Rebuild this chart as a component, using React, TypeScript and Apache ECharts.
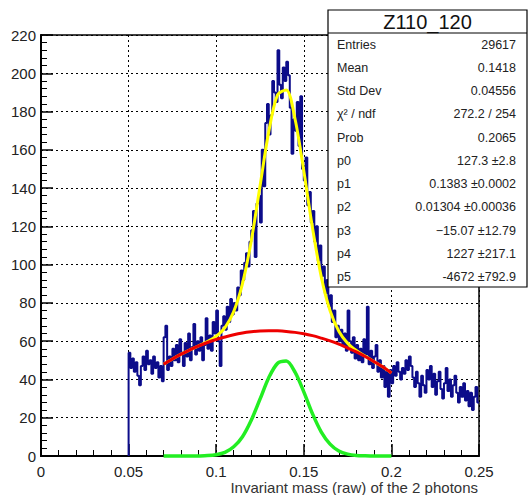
import React, { useEffect, useRef } from "react";
import * as echarts from "echarts";

// Histogram: bin low edge = HIST_START + i * BIN_WIDTH
const HIST_START = 0.05;
const BIN_WIDTH = 0.001;
const histValues = [
  54, 46, 51, 44, 49, 42, 37, 47, 52, 45,
  55, 48, 50, 43, 52, 46, 49, 41, 47, 39,
  62, 68, 45, 52, 47, 56, 50, 58, 49, 61,
  54, 47, 59, 52, 64, 50, 57, 69, 53, 60,
  55, 62, 50, 58, 72, 56, 63, 55, 70, 64,
  76, 60, 47, 68, 73, 66, 78, 70, 82, 74,
  80, 76, 88, 84, 97, 92, 101, 106, 99, 112,
  118, 128, 104, 132, 136, 122, 160, 141, 174, 184,
  168, 178, 196, 190, 185, 212, 194, 187, 203, 196,
  206, 199, 182, 158, 176, 170, 185, 162, 188, 150,
  144, 156, 131, 138, 122, 128, 112, 120, 102, 110,
  94, 99, 85, 92, 78, 84, 70, 76, 62, 68,
  60, 66, 58, 64, 55, 76, 60, 54, 62, 51,
  58, 50, 56, 49, 61, 53, 78, 48, 55, 46,
  52, 58, 44, 50, 41, 47, 36, 44, 31, 45,
  38, 47, 42, 49, 44, 40, 46, 43, 50, 45,
  52, 47, 41, 36, 44, 38, 31, 42, 37, 33,
  45, 40, 47, 36, 43, 32, 39, 44, 35, 30,
  38, 46, 34, 40, 31, 37, 42, 33, 28, 36,
  31, 38, 29, 34, 26, 33, 24, 31, 36, 28,
];
const HIST_END = 0.25;

const curveX = [
  0.07, 0.075, 0.08, 0.085, 0.09, 0.095, 0.1, 0.105, 0.11, 0.115,
  0.12, 0.125, 0.13, 0.135, 0.14, 0.145, 0.15, 0.155, 0.16, 0.165,
  0.17, 0.175, 0.18, 0.185, 0.19, 0.195, 0.2,
];
const totalFit = [
  47.9, 50.7, 53.2, 55.5, 57.6, 59.8, 62.6, 67.1, 75.5, 90.1,
  112.4, 141.0, 169.5, 188.7, 191.3, 176.1, 149.0, 119.0, 93.5, 75.9,
  65.2, 58.9, 55.1, 52.2, 49.4, 46.6, 43.4,
];
const backgroundFit = [
  47.9, 50.7, 53.2, 55.5, 57.5, 59.3, 60.9, 62.2, 63.4, 64.3,
  64.9, 65.3, 65.5, 65.4, 65.1, 64.6, 63.9, 62.9, 61.6, 60.2,
  58.5, 56.5, 54.4, 52.0, 49.4, 46.6, 43.4,
];
const signalFit = [
  0, 0, 0, 0, 0.05, 0.2, 0.7, 1.9, 4.8, 10.1,
  18.7, 29.7, 40.9, 48.4, 49.6, 43.8, 33.5, 22.0, 12.5, 6.2,
  2.6, 1.0, 0.3, 0.1, 0, 0, 0,
];

const STAT_TITLE = "Z110_120";
const statLabels = ["Entries", "Mean", "Std Dev", "χ² / ndf", "Prob", "p0", "p1", "p2", "p3", "p4", "p5"];
const statValues = [
  "29617",
  "0.1418",
  "0.04556",
  "272.2 / 254",
  "0.2065",
  "127.3 ±2.8",
  "0.1383 ±0.0002",
  "0.01304 ±0.00036",
  "−15.07 ±12.79",
  "1227 ±217.1",
  "-4672 ±792.9",
];
const X_TITLE = "Invariant mass (raw) of the 2 photons";

const FONT = "'Liberation Sans', Arial, Helvetica, sans-serif";

export default function App() {
  const ref = useRef<HTMLDivElement>(null);

  useEffect(() => {
    if (!ref.current) return;
    const chart = echarts.init(ref.current, undefined, { renderer: "svg" });

    const histData: number[][] = [[HIST_START, 0]];
    histValues.forEach((v, i) => histData.push([HIST_START + i * BIN_WIDTH, v]));
    histData.push([HIST_END, histValues[histValues.length - 1]]);

    const boxX = 328;
    const boxY = 10;
    const boxW = 199;
    const boxH = 277;
    const rowY0 = 44.5;
    const rowStep = 23.25;
    const BOX_Z = 100;

    const statTexts: any[] = [];
    statLabels.forEach((lab, i) => {
      statTexts.push({
        type: "text",
        z: BOX_Z + 2,
        x: boxX + 9,
        y: rowY0 + i * rowStep,
        style: {
          text: lab,
          fill: "#222",
          font: `12.5px ${FONT}`,
          textAlign: "left",
          textVerticalAlign: "middle",
        },
      });
      statTexts.push({
        type: "text",
        z: BOX_Z + 2,
        x: 516,
        y: rowY0 + i * rowStep,
        style: {
          text: statValues[i],
          fill: "#222",
          font: `12.5px ${FONT}`,
          textAlign: "right",
          textVerticalAlign: "middle",
        },
      });
    });

    const axisCommon = {
      axisLine: { show: true, lineStyle: { color: "#000", width: 2 } },
      axisTick: { show: true, inside: true, length: 12, lineStyle: { color: "#000", width: 1.5 } },
      minorTick: { show: true, splitNumber: 5, length: 6, lineStyle: { color: "#000", width: 1 } },
      splitLine: { show: true, lineStyle: { color: "#000", width: 1, type: [2, 3] } },
      axisLabel: { color: "#222", fontSize: 15, fontFamily: FONT },
    };

    chart.setOption({
      animation: false,
      grid: {
        left: 41,
        right: 49,
        top: 35,
        bottom: 39,
        show: true,
        borderColor: "#000",
        borderWidth: 1.5,
        backgroundColor: "#fff",
      },
      xAxis: {
        type: "value",
        min: 0,
        max: 0.25,
        interval: 0.05,
        ...axisCommon,
        axisLabel: { ...axisCommon.axisLabel, margin: 8 },
      },
      yAxis: {
        type: "value",
        min: 0,
        max: 220,
        interval: 20,
        ...axisCommon,
        axisLabel: { ...axisCommon.axisLabel, margin: 5 },
      },
      series: [
        {
          type: "line",
          data: histData,
          step: "end",
          showSymbol: false,
          lineStyle: { color: "#0c0c8a", width: 2 },
          z: 2,
        },
        {
          type: "line",
          data: curveX.map((x, i) => [x, totalFit[i]]),
          smooth: 0.3,
          showSymbol: false,
          lineStyle: { color: "#ffff00", width: 3 },
          z: 3,
        },
        {
          type: "line",
          data: curveX.map((x, i) => [x, backgroundFit[i]]),
          smooth: 0.3,
          showSymbol: false,
          lineStyle: { color: "#ee0000", width: 3 },
          z: 4,
        },
        {
          type: "line",
          data: curveX.map((x, i) => [x, signalFit[i]]),
          smooth: 0.3,
          showSymbol: false,
          clip: false,
          lineStyle: { color: "#22ee22", width: 3.5 },
          z: 5,
        },
      ],
      graphic: [
        {
          type: "text",
          x: 478,
          y: 487,
          z: 50,
          style: {
            text: X_TITLE,
            fill: "#333",
            font: `15px ${FONT}`,
            textAlign: "right",
            textVerticalAlign: "middle",
          },
        },
        {
          type: "rect",
          z: BOX_Z,
          shape: { x: boxX, y: boxY, width: boxW, height: boxH },
          style: { fill: "#fff", stroke: "#000", lineWidth: 1.2 },
        },
        {
          type: "line",
          z: BOX_Z + 1,
          shape: { x1: boxX, y1: 33, x2: boxX + boxW, y2: 33 },
          style: { stroke: "#000", lineWidth: 1 },
        },
        {
          type: "text",
          z: BOX_Z + 2,
          x: boxX + boxW / 2,
          y: 22,
          style: {
            text: STAT_TITLE,
            fill: "#111",
            font: `20px ${FONT}`,
            textAlign: "center",
            textVerticalAlign: "middle",
          },
        },
        ...statTexts,
      ],
    });

    return () => chart.dispose();
  }, []);

  return (
    <div
      ref={ref}
      style={{ position: "absolute", left: 0, top: 0, width: 528, height: 495, background: "#fff" }}
    />
  );
}
